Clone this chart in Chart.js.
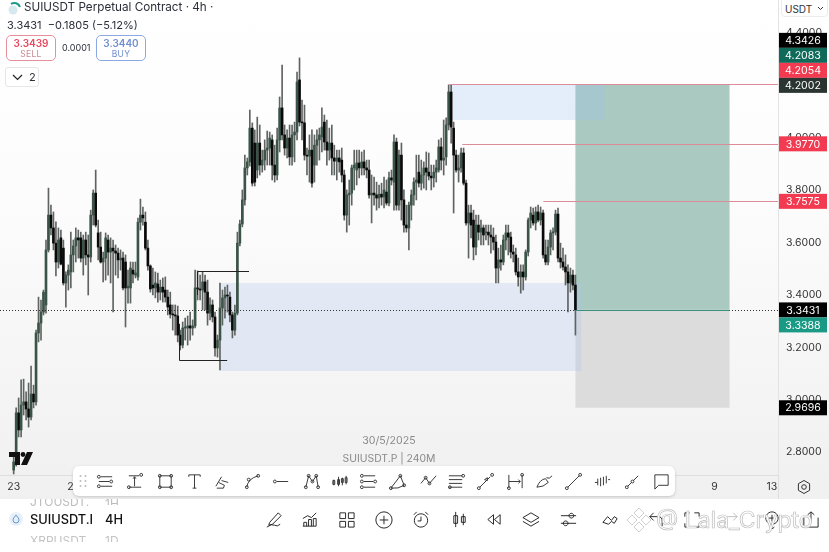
<!DOCTYPE html>
<html>
<head>
<meta charset="utf-8">
<title>SUIUSDT Perpetual Contract</title>
<script src="https://cdn.jsdelivr.net/npm/chart.js@4/dist/chart.umd.min.js"></script>
<style>
html, body { margin: 0; padding: 0; background: #fff; }
body { width: 829px; height: 552px; overflow: hidden; position: relative; font-family: Inter, sans-serif; color: #2a2e39; }
#plot { position: absolute; left: 0; top: 0; width: 829px; height: 499px; background: linear-gradient(#ffffff 0, #fcfcfc 200px, #f4f4f4 400px, #f0f0f0 499px); }
#plot canvas { position: absolute; left: 0; top: 0; }
.abs { position: absolute; white-space: nowrap; }
.side { border: 1px solid; border-radius: 5px; width: 48px; height: 24px; text-align: center; background: #fff; }
.side b { display: block; font-size: 10px; font-weight: 600; line-height: 12px; margin-top: 1px; }
.side span { display: block; font-size: 8.5px; line-height: 10px; letter-spacing: .3px; }
#toolbar { position: absolute; left: 73px; top: 466px; width: 602px; height: 30px; background: #fff; border-radius: 6px; box-shadow: 0 1px 3px rgba(0,0,0,.18); }
.ic { position: absolute; fill: none; stroke: #222; stroke-width: 1; }
</style>
</head>
<body>
<div id="plot"><canvas id="chart" width="829" height="499"></canvas></div>

<svg class="abs" style="left:6px;top:1px" width="16" height="15" viewBox="0 0 16 15"><circle cx="7" cy="9" r="4.5" fill="#d5e9ee"/><path d="M5 3 a6 6 0 0 1 9 3" fill="none" stroke="#1f9a8a" stroke-width="2"/></svg>
<div class="abs" style="left:24px;top:0;font-size:11.7px;line-height:15px">SUIUSDT Perpetual Contract · 4h ·</div>
<div class="abs" style="left:7px;top:18px;font-size:11px;line-height:14px">3.3431 &nbsp;−0.1805 (−5.12%)</div>
<div class="abs side" style="left:6px;top:35px;border-color:#e88f9c;color:#e8475c"><b>3.3439</b><span style="color:#c98a94">SELL</span></div>
<div class="abs" style="left:62px;top:41px;font-size:9px;line-height:14px">0.0001</div>
<div class="abs side" style="left:96px;top:35px;border-color:#8ba8e2;color:#6f8fd0"><b>3.3440</b><span>BUY</span></div>
<div class="abs" style="left:5px;top:67px;width:32px;height:18px;border:1px solid #e6e6e6;border-radius:3px;background:#fff;font-size:11px;line-height:18px">
  <svg class="abs" style="left:6px;top:6px" width="11" height="7" viewBox="0 0 11 7"><path d="M1 1 L5.5 5.5 L10 1" fill="none" stroke="#222" stroke-width="1.2"/></svg>
  <span class="abs" style="left:23px">2</span>
</div>
<div class="abs" style="left:781px;top:-4px;width:45px;height:19px;border:1px solid #ececec;border-radius:4px;background:#fff;font-size:10px;line-height:24px;text-indent:3px;color:#333">USDT</div>
<svg class="abs" style="left:817px;top:6px" width="7" height="5" viewBox="0 0 7 5"><path d="M1 1 L3.5 3.5 L6 1" fill="none" stroke="#333"/></svg>

<div class="abs" style="left:289px;width:200px;text-align:center;top:433px;font-size:10.6px;line-height:15px;color:#8a8a8a">30/5/2025</div>
<div class="abs" style="left:289px;width:200px;text-align:center;top:451px;font-size:10.4px;line-height:15px;color:#8a8a8a">SUIUSDT.P | 240M</div>
<svg class="abs" style="left:9px;top:452px" width="24" height="14" viewBox="0 0 24 14"><path d="M0 0 H11 V13 H6 V5 H0 Z M18 0 H24 L18 13 H12 Z" fill="#111"/><circle cx="14" cy="2.5" r="2.4" fill="#111"/></svg>

<div id="toolbar"></div>
<svg class="abs" style="left:804px;top:487px;margin:-8px" width="16" height="16" viewBox="0 0 16 16"><path d="M8 1.5 L13.6 4.7 V11.3 L8 14.5 L2.4 11.3 V4.7 Z" fill="none" stroke="#333"/><circle cx="8" cy="8" r="2.3" fill="none" stroke="#333"/></svg>

<div class="abs" style="left:0;top:499px;width:829px;height:53px;background:#fff"></div>
<div class="abs" style="left:30px;top:496px;font-size:12px;line-height:14px;color:#bcbcbc;height:10px;overflow:hidden;margin-top:3px"><span style="position:relative;top:-4px">JTOUSDT.</span></div>
<div class="abs" style="left:105px;top:499px;font-size:12px;line-height:10px;color:#bcbcbc;height:6px;overflow:hidden">1H</div>
<svg class="abs" style="left:9px;top:512px" width="14" height="14" viewBox="0 0 14 14"><circle cx="7" cy="7" r="7" fill="#e9eff6"/><path d="M7 3 C9 5.5 10 6.800 10 8 a3 3 0 0 1-6 0 C4 6.800 5 5.500 7 3 Z" fill="none" stroke="#5b9bd5"/></svg>
<div class="abs" style="left:30px;top:512px;width:62px;overflow:hidden;font-size:12.8px;line-height:15px;font-weight:500;color:#111">SUIUSDT.P</div>
<div class="abs" style="left:105px;top:512px;font-size:12.8px;line-height:15px;font-weight:500;color:#111">4H</div>
<div class="abs" style="left:30px;top:534px;font-size:12px;line-height:14px;height:8px;overflow:hidden;color:#c4c4c4">XRPUSDT</div>
<div class="abs" style="left:105px;top:534px;font-size:12px;line-height:14px;height:8px;overflow:hidden;color:#c4c4c4">1D</div>
<div class="abs" id="bottomIcons" style="left:0;top:0"></div>

<div class="abs" style="left:656px;top:507px;font-size:23px;line-height:26px;color:#fff;-webkit-text-stroke:.7px #bdbdbd">@ Lala_Crypto</div>
<svg class="abs" style="left:626px;top:507px" width="26" height="26" viewBox="0 0 26 26"><g fill="#fff" stroke="#cfcfcf"><path d="M13 1 L18 6 L13 11 L8 6 Z"/><path d="M6 8 L11 13 L6 18 L1 13 Z"/><path d="M20 8 L25 13 L20 18 L15 13 Z"/><path d="M13 15 L18 20 L13 25 L8 20 Z"/></g></svg>

<script>
// ==========================================
// DATA
// ==========================================

// Candles (price, 4h bars from 23 Apr to 30 May)
const opens = [
    2.732,2.763,2.950,2.885,2.980,2.992,2.965,2.934,3.022,2.992,
    3.255,3.293,3.335,3.362,3.572,3.705,3.656,3.598,3.526,3.618,
    3.579,3.446,3.476,3.488,3.553,3.587,3.618,3.618,3.541,3.610,
    3.553,3.545,3.705,3.789,3.637,3.583,3.526,3.541,3.610,3.564,
    3.579,3.568,3.560,3.534,3.541,3.526,3.427,3.427,3.495,3.476,
    3.469,3.678,3.705,3.678,3.579,3.511,3.438,3.427,3.442,3.411,
    3.430,3.419,3.392,3.362,3.327,3.324,3.320,3.247,3.209,3.274,
    3.274,3.282,3.274,3.282,3.427,3.423,3.419,3.450,3.411,3.331,
    3.362,3.316,3.198,3.228,3.350,3.389,3.400,3.392,3.324,3.266,
    3.331,3.598,3.671,3.763,3.885,3.908,4.037,3.980,3.877,3.980,
    3.896,3.915,3.953,3.961,3.992,3.896,3.858,3.992,4.114,4.011,
    3.961,3.999,3.927,4.011,4.022,4.221,4.060,4.057,3.934,3.930,
    3.953,3.896,3.972,3.992,4.003,4.060,3.984,3.953,3.980,3.923,
    3.911,3.923,3.915,3.858,3.705,3.782,3.789,3.885,3.877,3.904,
    3.885,3.908,3.885,3.877,3.782,3.789,3.782,3.770,3.785,3.774,
    3.793,3.751,3.847,3.831,3.984,3.743,3.934,3.763,3.667,3.656,
    3.743,3.782,3.831,3.869,3.827,3.858,3.885,3.869,3.854,3.847,
    3.869,3.877,3.965,3.915,3.927,4.049,4.175,4.037,3.934,3.877,
    3.885,3.942,3.827,3.675,3.713,3.686,3.583,3.667,3.640,3.656,
    3.637,3.640,3.629,3.621,3.602,3.503,3.534,3.526,3.610,3.637,
    3.621,3.564,3.553,3.488,3.469,3.488,3.469,3.564,3.686,3.705,
    3.675,3.717,3.686,3.713,3.553,3.526,3.583,3.637,3.640,3.709,
    3.541,3.526,3.507,3.488,3.446,3.476,3.438
];
const highs = [
    2.789,2.969,3.007,3.076,3.079,3.030,3.064,3.129,3.056,3.266,
    3.392,3.381,3.419,3.610,3.808,3.743,3.717,3.679,3.656,3.648,
    3.610,3.488,3.515,3.640,3.610,3.656,3.648,3.640,3.629,3.640,
    3.629,3.724,3.801,3.877,3.686,3.640,3.564,3.637,3.629,3.618,
    3.610,3.591,3.579,3.572,3.564,3.553,3.495,3.526,3.526,3.526,
    3.694,3.766,3.736,3.717,3.610,3.515,3.503,3.488,3.484,3.457,
    3.465,3.469,3.419,3.411,3.362,3.362,3.358,3.266,3.297,3.312,
    3.320,3.335,3.305,3.495,3.492,3.476,3.488,3.476,3.457,3.389,
    3.381,3.335,3.247,3.446,3.419,3.430,3.438,3.411,3.335,3.362,
    3.640,3.686,3.801,3.934,3.923,4.106,4.057,4.030,4.079,4.049,
    3.953,3.992,4.026,4.022,4.011,3.972,4.037,4.156,4.278,4.049,
    4.030,4.049,4.049,4.060,4.251,4.305,4.144,4.125,3.961,4.011,
    4.030,4.011,4.030,4.037,4.114,4.087,4.068,4.037,4.049,3.972,
    3.953,3.953,3.961,3.877,3.801,3.839,3.896,3.953,3.953,3.953,
    3.946,3.953,3.915,3.915,3.858,3.850,3.831,3.820,3.827,3.850,
    3.839,3.869,3.877,4.011,3.999,3.953,3.980,3.801,3.743,3.755,
    3.801,3.847,3.934,3.934,3.915,3.908,3.946,3.942,3.896,3.896,
    3.915,3.992,3.999,4.068,4.076,4.202,4.202,4.060,3.953,3.934,
    3.961,3.961,3.839,3.743,3.743,3.724,3.705,3.705,3.686,3.667,
    3.667,3.667,3.667,3.656,3.629,3.579,3.591,3.629,3.667,3.667,
    3.640,3.591,3.579,3.541,3.515,3.515,3.572,3.694,3.736,3.732,
    3.736,3.743,3.736,3.724,3.610,3.610,3.648,3.656,3.724,3.732,
    3.598,3.579,3.553,3.515,3.503,3.495,3.476
];
const lows = [
    2.717,2.747,2.858,2.858,2.942,2.923,2.896,2.923,2.969,2.980,
    3.221,3.228,3.324,3.331,3.564,3.629,3.572,3.473,3.503,3.515,
    3.438,3.354,3.419,3.427,3.488,3.526,3.541,3.526,3.476,3.515,
    3.400,3.526,3.667,3.660,3.534,3.522,3.450,3.457,3.476,3.446,
    3.335,3.476,3.465,3.495,3.419,3.278,3.369,3.369,3.446,3.465,
    3.457,3.648,3.667,3.572,3.495,3.411,3.400,3.389,3.373,3.381,
    3.373,3.373,3.324,3.312,3.266,3.247,3.221,3.190,3.198,3.228,
    3.209,3.228,3.247,3.274,3.381,3.381,3.343,3.343,3.285,3.305,
    3.297,3.167,3.163,3.114,3.285,3.312,3.335,3.297,3.236,3.247,
    3.324,3.587,3.660,3.743,3.858,3.892,3.816,3.816,3.847,3.858,
    3.869,3.877,3.896,3.896,3.839,3.831,3.839,3.946,3.992,3.934,
    3.923,3.896,3.896,3.908,3.992,4.045,3.992,3.915,3.858,3.831,
    3.812,3.831,3.896,3.915,3.946,3.953,3.896,3.915,3.858,3.858,
    3.839,3.869,3.831,3.686,3.640,3.667,3.743,3.801,3.820,3.847,
    3.858,3.858,3.847,3.770,3.675,3.743,3.724,3.732,3.743,3.732,
    3.743,3.740,3.820,3.724,3.724,3.724,3.686,3.640,3.640,3.572,
    3.686,3.743,3.763,3.812,3.801,3.808,3.801,3.839,3.801,3.812,
    3.831,3.869,3.877,3.858,3.896,4.030,3.980,3.713,3.869,3.831,
    3.869,3.820,3.667,3.541,3.618,3.534,3.553,3.610,3.591,3.591,
    3.610,3.591,3.560,3.572,3.446,3.446,3.495,3.515,3.572,3.553,
    3.541,3.526,3.476,3.434,3.407,3.419,3.457,3.549,3.656,3.667,
    3.648,3.679,3.667,3.541,3.515,3.515,3.553,3.572,3.629,3.526,
    3.503,3.495,3.438,3.335,3.411,3.419,3.247
];
const closes = [
    2.763,2.950,2.885,2.980,2.992,2.965,2.934,3.022,2.992,3.255,
    3.293,3.335,3.411,3.572,3.705,3.656,3.598,3.526,3.610,3.518,
    3.446,3.476,3.495,3.553,3.587,3.618,3.610,3.541,3.610,3.553,
    3.545,3.705,3.789,3.667,3.583,3.526,3.541,3.618,3.564,3.579,
    3.568,3.560,3.534,3.541,3.427,3.427,3.434,3.503,3.480,3.484,
    3.678,3.705,3.694,3.579,3.511,3.423,3.427,3.446,3.411,3.430,
    3.411,3.392,3.354,3.327,3.324,3.320,3.247,3.209,3.274,3.278,
    3.282,3.274,3.282,3.427,3.423,3.419,3.450,3.411,3.331,3.362,
    3.316,3.198,3.228,3.350,3.389,3.400,3.396,3.324,3.266,3.331,
    3.598,3.671,3.763,3.885,3.908,4.037,3.827,3.831,3.980,3.896,
    3.915,3.953,3.961,3.999,3.896,3.858,3.992,4.114,4.011,3.961,
    3.999,3.927,4.011,4.022,4.213,4.060,4.057,3.934,3.930,3.953,
    3.827,3.972,3.992,4.011,4.041,3.984,3.953,3.980,3.923,3.911,
    3.923,3.908,3.858,3.705,3.782,3.789,3.885,3.896,3.904,3.885,
    3.908,3.885,3.877,3.782,3.789,3.782,3.770,3.785,3.774,3.801,
    3.751,3.847,3.839,3.984,3.743,3.934,3.763,3.667,3.656,3.743,
    3.782,3.831,3.839,3.827,3.858,3.885,3.869,3.854,3.847,3.869,
    3.885,3.965,3.915,3.923,4.049,4.175,4.041,3.934,3.877,3.885,
    3.942,3.827,3.675,3.713,3.667,3.583,3.667,3.640,3.656,3.629,
    3.640,3.629,3.621,3.602,3.503,3.534,3.526,3.610,3.637,3.621,
    3.564,3.556,3.488,3.469,3.488,3.469,3.564,3.686,3.713,3.675,
    3.717,3.686,3.713,3.553,3.526,3.583,3.637,3.640,3.709,3.541,
    3.526,3.507,3.488,3.446,3.476,3.438,3.3431
];

// Empty slots before the first candle and after the last one
const slotsBefore = 5;
const slotsAfter = 81;

// Axes
const yTicks = [2.8, 3.0, 3.2, 3.4, 3.6, 3.8, 4.0, 4.2, 4.4];
const xTickSlots = [5, 29, 53, 77, 101, 125, 149, 173, 197, 221, 245, 269, 287, 310];
const xTickTexts = ['23', '27', 'May', '5', '9', '13', '17', '21', '25', '29', 'Jun', '5', '9', '13'];

// Drawings: [first slot, last slot, top price, bottom price]
const targetBox = [231, 293, 4.2054, 3.3431];
const stopBox = [231, 293, 3.3431, 2.9696];
const demandZone = [87.7, 233.4, 3.446, 3.11];
const supplyZone = [180.3, 242.7, 4.205, 4.068];

// Red levels: price and the slot they start from
const levelPrices = [4.2054, 3.977, 3.7575];
const levelStarts = [180.3, 185.5, 218.1];

// Black swing markers: [start slot, end slot, price, end of the tick]
const swingHigh = [78.8, 99.7, 3.491, 3.4];
const swingLow = [71.6, 90.9, 3.152, 3.29];

// Price tags on the axis
const tagPrices = [4.3426, 4.2083, 4.2054, 4.2002, 3.977, 3.7575, 3.3431, 3.3388, 2.9696];
const tagColors = ['#000000', '#0f6a5a', '#f23a50', '#2a3431', '#f23a50', '#f23a50', '#000000', '#1a9a85', '#000000'];

const lastPrice = 3.3431;

// ==========================================
// HELPERS
// ==========================================

const pad = (values) => [...Array(slotsBefore).fill(null), ...values, ...Array(slotsAfter).fill(null)];
const isUp = opens.map((o, i) => closes[i] >= o);

const slotLabels = pad(opens.map(() => '')).map((v, i) => {
    const at = xTickSlots.indexOf(i);
    return at >= 0 ? xTickTexts[at] : '';
});

// Tags that would overlap are pushed away from the one they touch
const placeTags = (yScale) => {
    const tagH = 15;
    const ys = tagPrices.map(p => yScale.getPixelForValue(p));
    for (let i = 2; i >= 0; i--) ys[i] = Math.min(ys[i], ys[i + 1] - tagH);
    ys[7] = Math.max(ys[7], ys[6] + tagH);
    return ys;
};

// ==========================================
// DRAWINGS PLUGIN
// ==========================================

const drawings = {
    id: 'drawings',
    beforeDatasetsDraw(chart) {
        const { ctx, scales: { x, y } } = chart;
        const box = (b, color) => {
            ctx.fillStyle = color;
            const x0 = x.getPixelForValue(b[0]);
            const y0 = y.getPixelForValue(b[2]);
            ctx.fillRect(x0, y0, x.getPixelForValue(b[1]) - x0, y.getPixelForValue(b[3]) - y0);
        };
        ctx.save();
        box(targetBox, '#a9c9c1');
        box(stopBox, '#dcdcdc');
        box(demandZone, 'rgba(176,198,238,0.30)');
        box(supplyZone, 'rgba(160,195,240,0.27)');
        ctx.restore();
    },
    afterDatasetsDraw(chart) {
        const { ctx, chartArea, scales: { x, y } } = chart;
        ctx.save();

        // Last price dotted line
        const lastY = Math.round(y.getPixelForValue(lastPrice)) + 0.5;
        ctx.strokeStyle = '#333';
        ctx.lineWidth = 1;
        ctx.setLineDash([1, 2]);
        ctx.beginPath();
        ctx.moveTo(0, lastY);
        ctx.lineTo(chartArea.right, lastY);
        ctx.stroke();
        ctx.setLineDash([]);

        // Entry line on the position box
        ctx.strokeStyle = '#3f8f7f';
        ctx.beginPath();
        ctx.moveTo(x.getPixelForValue(targetBox[0]), lastY);
        ctx.lineTo(x.getPixelForValue(targetBox[1]), lastY);
        ctx.stroke();

        // Red levels
        ctx.strokeStyle = '#dc8c99';
        levelPrices.forEach((p, i) => {
            const ly = Math.round(y.getPixelForValue(p)) + 0.5;
            ctx.beginPath();
            ctx.moveTo(x.getPixelForValue(levelStarts[i]), ly);
            ctx.lineTo(chartArea.right, ly);
            ctx.stroke();
        });

        // Swing markers
        ctx.strokeStyle = '#222';
        [swingHigh, swingLow].forEach(s => {
            const sy = Math.round(y.getPixelForValue(s[2])) + 0.5;
            const sx = Math.round(x.getPixelForValue(s[0])) + 0.5;
            ctx.beginPath();
            ctx.moveTo(sx, y.getPixelForValue(s[3]));
            ctx.lineTo(sx, sy);
            ctx.lineTo(x.getPixelForValue(s[1]), sy);
            ctx.stroke();
        });
        ctx.restore();
    },
    afterDraw(chart) {
        const { ctx, chartArea, scales: { y } } = chart;
        ctx.save();

        // Corner of the two axes: cuts off the last date label
        ctx.fillStyle = '#f1f1f1';
        ctx.fillRect(chartArea.right + 1, chartArea.bottom + 1, 51, 30);
        ctx.fillStyle = '#dedede';
        ctx.fillRect(chartArea.right, chartArea.bottom, 1, 30);

        // Price tags
        const ys = placeTags(y);
        ctx.font = '10.6px Inter';
        ctx.textBaseline = 'middle';
        ctx.textAlign = 'center';
        tagPrices.forEach((p, i) => {
            ctx.fillStyle = tagColors[i];
            ctx.fillRect(chartArea.right + 1, ys[i] - 7.5, 48, 15);
            ctx.fillStyle = '#fff';
            ctx.fillText(p.toFixed(4), chartArea.right + 25, ys[i] + 0.5);
        });
        ctx.restore();
    }
};

// ==========================================
// CHART
// ==========================================

const chartCtx = document.getElementById('chart').getContext('2d');
const candleChart = new Chart(chartCtx, {
    type: 'bar',
    data: {
        labels: slotLabels,
        datasets: [{
            // Bodies, first dataset paints on top
            data: pad(opens.map((o, i) => [Math.min(o, closes[i]), Math.max(o, closes[i])])),
            backgroundColor: pad(isUp.map(u => u ? '#3b5448' : '#0a0a0a')),
            barThickness: 2,
            minBarLength: 1,
            grouped: false
        }, {
            // Wicks
            data: pad(lows.map((l, i) => [l, highs[i]])),
            backgroundColor: '#5f6462',
            barThickness: 1,
            grouped: false
        }]
    },
    options: {
        responsive: false,
        animation: false,
        events: [],
        layout: { padding: 0 },
        plugins: {
            legend: { display: false },
            tooltip: { enabled: false }
        },
        scales: {
            x: {
                grid: { display: false, drawTicks: false },
                border: { color: '#dedede' },
                afterFit(scale) {
                    scale.height = 24;
                    scale.paddingLeft = 0;
                    scale.paddingRight = 0;
                },
                ticks: {
                    autoSkip: false,
                    maxRotation: 0,
                    padding: 6,
                    font: { family: 'Inter', size: 10.5 },
                    color: '#333333',
                    callback(value) { return this.getLabelForValue(value); }
                }
            },
            y: {
                position: 'right',
                min: 2.713,
                max: 4.526,
                grid: { display: false, drawTicks: false },
                border: { color: '#e3e3e3' },
                afterBuildTicks(scale) { scale.ticks = yTicks.map(value => ({ value })); },
                afterFit(scale) {
                    scale.width = 51;
                    scale.paddingTop = 0;
                    scale.paddingBottom = 0;
                },
                ticks: {
                    padding: 8,
                    font: { family: 'Inter', size: 10.5 },
                    color: '#333333',
                    callback(value) { return value.toFixed(4); }
                }
            }
        }
    },
    plugins: [drawings]
});

// ==========================================
// TOOLBAR ICONS
// ==========================================

const o = (x, y) => `M${x - 1.5} ${y}a1.5 1.5 0 1 0 3 0a1.5 1.5 0 1 0-3 0`;
const toolIcons = [
    `${o(3,5)}${o(3,15)}${o(16,10)}M5 5H17M5 15H17M3 10H14`,
    `M3 4H14M3 16H16M9 5V15M7.500 7L9 5L10.500 7${o(16,3)}${o(3,16)}`,
    `M4 4H16V16H4Z${o(4,4)}${o(16,4)}${o(4,16)}${o(16,16)}`,
    `M4 5V3H16V5M10 3V17M8 17H12`,
    `M3 15L9 5M4 17H11L12 14L6 11M9 9L16 11`,
    `M4 16Q5 7 16 4${o(4,16)}${o(6,8)}${o(16,4)}`,
    `${o(3,10)}M5 10H17`,
    `M4 16L7 4L11 10L15 4L17 16${o(4,16)}${o(7,4)}${o(15,4)}${o(17,16)}${o(11,10)}`,
    `M4 8V14M9 5V15M13 6V14M17 4V13M3 9H5V13H3ZM8 8H10V13H8ZM12 7H14V11H12ZM16 6H18V11H16Z`,
    `${o(3,4)}${o(3,10)}${o(3,16)}${o(17,10)}M5 4H17M5 16H17M5 10H15`,
    `M3 17L13 4L17 14Q11 18 3 17${o(3,17)}${o(13,4)}${o(17,14)}`,
    `M2 12L7 6L11 12L18 4${o(7,6)}${o(11,12)}`,
    `M2 4H16M2 8H16M2 12H16M2 16H16${o(17,4)}${o(3,16)}`,
    `${o(3,17)}${o(17,3)}M4 16L15 5M9 8L12 6L12 9Z`,
    `M3 3V17M17 3V17M3 10H15M13 8L15 10L13 12${o(3,17)}${o(17,3)}`,
    `M2 16Q5 8 11 7L14 11Q9 16 2 16M12 6Q15 8 18 4`,
    `${o(3,17)}${o(17,3)}M4 16L16 4`,
    `M2 11H5M5 7V14M8 6V15M11 5V14M14 4V12M16 8H18`,
    `${o(4,16)}${o(10,10)}M5 15L9 11M11 9L16 4`,
    `M3 3H17V14H7L3 18Z`
];
const toolCenters = [105, 135, 165, 194, 222, 252, 281, 311, 339, 368, 397, 428, 456, 485, 515, 544, 573, 602, 632, 661];

const bottomIcons = [
    `M3 18Q8 14 11 16T17 15M6 13L15 3L18 6L9 15L5 16Z`,
    `M3 17H17M4 17V13H7V17M9 17V10H12V17M14 17V9H17V17M3 9L8 6L12 8L17 3`,
    `M3 3H9V9H3ZM12 3H18V9H12ZM3 12H9V18H3ZM12 12H18V18H12Z`,
    `M10.500 2a8.500 8.500 0 1 0 .01 0ZM10.500 6V15M6 10.500H15`,
    `M10.500 4a7 7 0 1 0 .01 0ZM10.500 7V11.500H7M3 5L6 2M18 5L15 2`,
    `M6 2V18M14 4V16M4 6H8V14H4ZM12 7H16V13H12Z`,
    `M10 5L4 10L10 15ZM17 5L11 10L17 15Z`,
    `M10.500 3L19 8L10.500 13L2 8ZM2 12L10.500 17L19 12`,
    `M2 6H18M2 14H18M13 3.500a2.500 2.500 0 1 0 .01 0ZM7 11.500a2.500 2.500 0 1 0 .01 0Z`,
    `M2 13L7 7L11 11L14 7L17 9L14 14L11 12L8 15Z`,
    `M8 3L4 7L8 11M4 7H13Q17 7 17 12V17`,
    `M3 7V3H8M13 3H18V7M3 14V18H8M13 18H18V14`,
    `M13 3L17 7L13 11M17 7H8Q4 7 4 12V17`,
    `M10.500 2a6.500 6.500 0 1 0 .01 0ZM10.500 5V12M7 8.500H14M10.500 15V20M8 18L10.500 20L13 18`,
    `M3 8V18H18V8M10.500 13V2M7 5L10.500 2L14 5`
];
const bottomCenters = [273, 309, 346, 383, 420, 459, 493, 530, 568, 610, 655, 691, 730, 771, 810];
// The redo arrow is pale in the reference
const paleIcons = [12];

const svgIcon = (d, cx, cy, size, stroke) =>
    `<svg class="ic" style="left:${cx - size / 2}px;top:${cy - size / 2}px;stroke:${stroke}" width="${size}" height="${size}" viewBox="0 0 20 20"><path d="${d}"/></svg>`;

document.getElementById('toolbar').innerHTML =
    `<svg class="ic" style="left:6px;top:8px;stroke:none;fill:#bbb" width="8" height="14" viewBox="0 0 8 14"><circle cx="1.500" cy="2" r="1"/><circle cx="6.500" cy="2" r="1"/><circle cx="1.500" cy="7" r="1"/><circle cx="6.500" cy="7" r="1"/><circle cx="1.500" cy="12" r="1"/><circle cx="6.500" cy="12" r="1"/></svg>` +
    toolIcons.map((d, i) => svgIcon(d, toolCenters[i] - 73, 15, 19, '#333')).join('');

document.getElementById('bottomIcons').innerHTML =
    bottomIcons.map((d, i) => svgIcon(d, bottomCenters[i], 519, 19, paleIcons.includes(i) ? '#bbb' : '#222')).join('');
</script>
</body>
</html>
